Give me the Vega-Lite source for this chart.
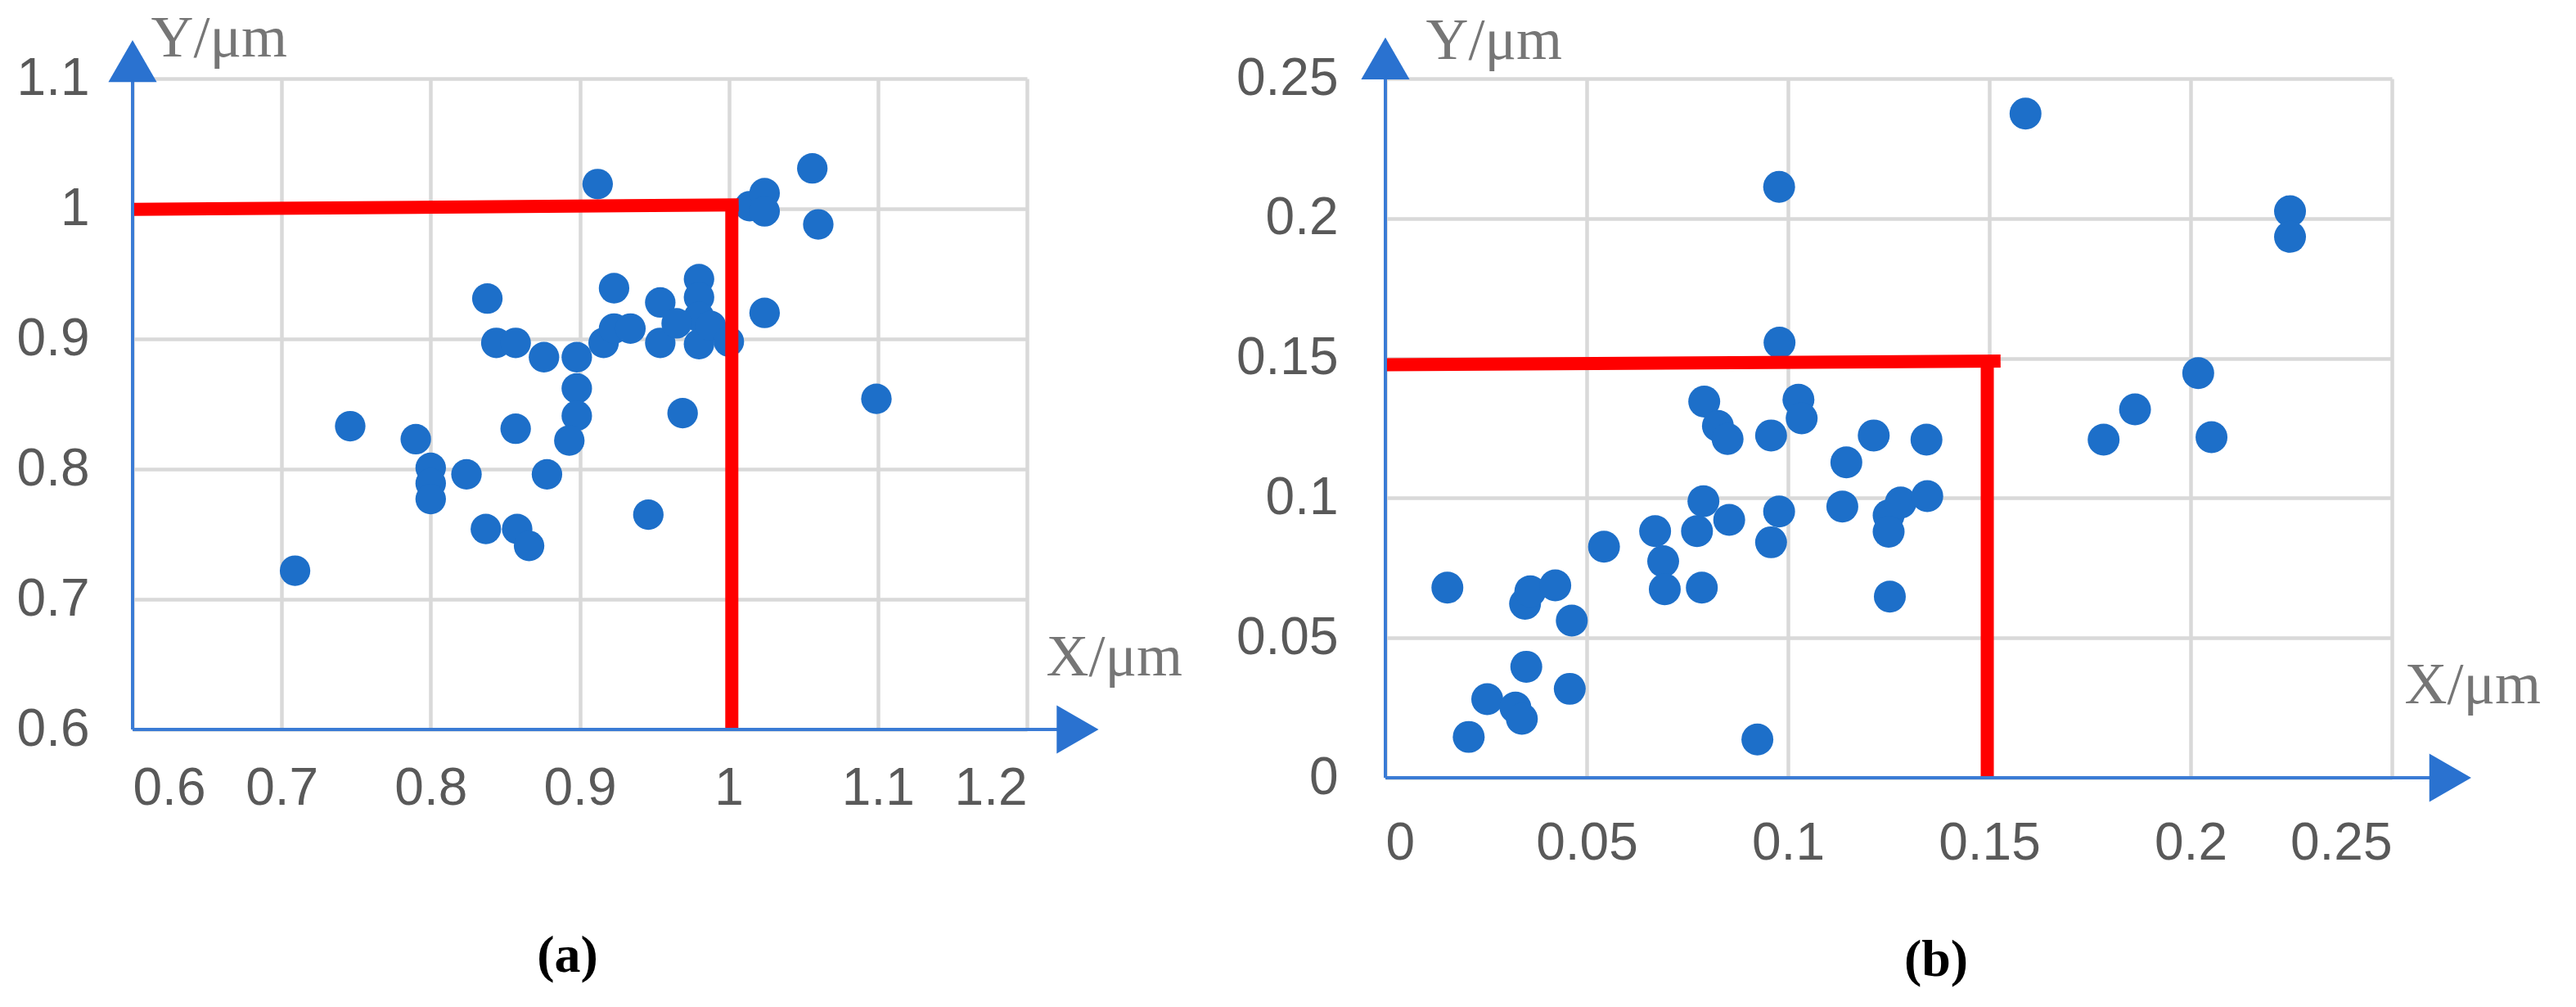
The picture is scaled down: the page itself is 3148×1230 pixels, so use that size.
{
  "$schema": "https://vega.github.io/schema/vega-lite/v6.json",
  "background": "white",
  "padding": {"left": 20, "top": 10, "right": 52, "bottom": 10},
  "bounds": "flush",
  "spacing": 438,
  "config": {
    "view": {"stroke": null},
    "axis": {
      "domain": false,
      "ticks": false,
      "grid": true,
      "gridColor": "#d9d9d9",
      "gridWidth": 4.5,
      "labelFont": "Liberation Sans",
      "labelFontSize": 64,
      "labelColor": "#595959",
      "titleFont": "Liberation Serif",
      "titleFontSize": 72,
      "titleFontWeight": "normal",
      "titleColor": "#767676",
      "titleAngle": 0,
      "titleAlign": "left",
      "titleBaseline": "alphabetic",
      "format": "~g"
    }
  },
  "datasets": {
    "a": [
      {"x": 0.709, "y": 0.722}, {"x": 0.746, "y": 0.833}, {"x": 0.790, "y": 0.823},
      {"x": 0.800, "y": 0.801}, {"x": 0.800, "y": 0.789}, {"x": 0.800, "y": 0.777},
      {"x": 0.824, "y": 0.796}, {"x": 0.838, "y": 0.931}, {"x": 0.844, "y": 0.897},
      {"x": 0.857, "y": 0.897}, {"x": 0.837, "y": 0.754}, {"x": 0.858, "y": 0.754},
      {"x": 0.866, "y": 0.741}, {"x": 0.857, "y": 0.831}, {"x": 0.876, "y": 0.886},
      {"x": 0.878, "y": 0.796}, {"x": 0.898, "y": 0.886}, {"x": 0.898, "y": 0.862},
      {"x": 0.898, "y": 0.841}, {"x": 0.893, "y": 0.822}, {"x": 0.912, "y": 1.019},
      {"x": 0.923, "y": 0.939}, {"x": 0.916, "y": 0.897}, {"x": 0.923, "y": 0.908},
      {"x": 0.934, "y": 0.908}, {"x": 0.946, "y": 0.765}, {"x": 0.954, "y": 0.928},
      {"x": 0.954, "y": 0.897}, {"x": 0.969, "y": 0.843}, {"x": 0.980, "y": 0.946},
      {"x": 0.980, "y": 0.932}, {"x": 0.980, "y": 0.917}, {"x": 0.980, "y": 0.896},
      {"x": 0.988, "y": 0.910}, {"x": 1.000, "y": 0.898}, {"x": 0.965, "y": 0.912},
      {"x": 1.014, "y": 1.002}, {"x": 1.024, "y": 1.012}, {"x": 1.024, "y": 0.998},
      {"x": 1.024, "y": 0.920}, {"x": 1.056, "y": 1.031}, {"x": 1.060, "y": 0.988},
      {"x": 1.099, "y": 0.854}
    ],
    "b": [
      {"x": 0.0154, "y": 0.068}, {"x": 0.0207, "y": 0.0146}, {"x": 0.0253, "y": 0.0281},
      {"x": 0.0323, "y": 0.0251}, {"x": 0.0339, "y": 0.0211}, {"x": 0.0350, "y": 0.0397},
      {"x": 0.0347, "y": 0.0622}, {"x": 0.0360, "y": 0.0667}, {"x": 0.0422, "y": 0.0688},
      {"x": 0.0458, "y": 0.0318}, {"x": 0.0463, "y": 0.0562}, {"x": 0.0543, "y": 0.0826},
      {"x": 0.0670, "y": 0.0882}, {"x": 0.0690, "y": 0.0774}, {"x": 0.0694, "y": 0.0674},
      {"x": 0.0774, "y": 0.0882}, {"x": 0.0790, "y": 0.0989}, {"x": 0.0786, "y": 0.0680},
      {"x": 0.0854, "y": 0.0922}, {"x": 0.0792, "y": 0.1345}, {"x": 0.0826, "y": 0.1258},
      {"x": 0.0850, "y": 0.1211}, {"x": 0.0924, "y": 0.0137}, {"x": 0.0958, "y": 0.1224},
      {"x": 0.0958, "y": 0.0842}, {"x": 0.0978, "y": 0.0952}, {"x": 0.0979, "y": 0.1556},
      {"x": 0.0978, "y": 0.2113}, {"x": 0.1026, "y": 0.1352}, {"x": 0.1034, "y": 0.1285},
      {"x": 0.1135, "y": 0.0970}, {"x": 0.1145, "y": 0.1128}, {"x": 0.1213, "y": 0.1224},
      {"x": 0.1250, "y": 0.0938}, {"x": 0.1250, "y": 0.0880}, {"x": 0.1280, "y": 0.0984},
      {"x": 0.1253, "y": 0.0648}, {"x": 0.1344, "y": 0.1209}, {"x": 0.1346, "y": 0.1007},
      {"x": 0.1590, "y": 0.2375}, {"x": 0.1784, "y": 0.1209}, {"x": 0.1862, "y": 0.1317},
      {"x": 0.2019, "y": 0.1447}, {"x": 0.2052, "y": 0.1218}, {"x": 0.2247, "y": 0.2026},
      {"x": 0.2247, "y": 0.1934}
    ]
  },
  "hconcat": [
    {
      "width": 1093,
      "height": 795,
      "title": {"text": "(a)", "orient": "bottom", "anchor": "middle", "font": "Liberation Serif", "fontSize": 64, "fontWeight": "bold", "color": "#000000", "offset": 141, "dx": -15},
      "layer": [
        {
          "data": {"name": "a"},
          "mark": {"type": "point", "filled": true, "shape": "circle", "size": 1390, "color": "#1d6fc9", "opacity": 1},
          "encoding": {
            "x": {"field": "x", "type": "quantitative",
                  "scale": {"domain": [0.6, 1.2], "nice": false, "zero": false},
                  "axis": {"values": [0.6, 0.7, 0.8, 0.9, 1, 1.1, 1.2], "labelPadding": 40,
                           "title": "X/μm", "titleX": 1116, "titleY": -67}},
            "y": {"field": "y", "type": "quantitative",
                  "scale": {"domain": [0.6, 1.1], "nice": false, "zero": false},
                  "axis": {"values": [0.6, 0.7, 0.8, 0.9, 1, 1.1], "labelPadding": 53,
                           "title": "Y/μm", "titleX": 22, "titleY": -28}}
          }
        },
        {
          "data": {"values": [{}]},
          "mark": {"type": "rule", "color": "#ff0000", "strokeWidth": 16},
          "encoding": {"x": {"datum": 0.6}, "y": {"datum": 0.9995}, "x2": {"datum": 1.0066}, "y2": {"datum": 1.003}}
        },
        {
          "data": {"values": [{}]},
          "mark": {"type": "rule", "color": "#ff0000", "strokeWidth": 16},
          "encoding": {"x": {"datum": 1.002}, "y": {"datum": 0.6}, "y2": {"datum": 1.003}}
        },
        {
          "data": {"values": [{}]},
          "mark": {"type": "rule", "color": "#3a7bd5", "strokeWidth": 4},
          "encoding": {"x": {"datum": 0.6}, "x2": {"datum": 1.224}, "y": {"datum": 0.6}}
        },
        {
          "data": {"values": [{}]},
          "mark": {"type": "rule", "color": "#3a7bd5", "strokeWidth": 4},
          "encoding": {"x": {"datum": 0.6}, "y": {"datum": 0.6}, "y2": {"datum": 1.1}}
        },
        {
          "data": {"values": [{}]},
          "mark": {"type": "point", "filled": true, "shape": "triangle-right", "size": 3500, "color": "#2a72d0", "opacity": 1},
          "encoding": {"x": {"datum": 1.234}, "y": {"datum": 0.6}}
        },
        {
          "data": {"values": [{}]},
          "mark": {"type": "point", "filled": true, "shape": "triangle-up", "size": 3500, "color": "#2a72d0", "opacity": 1},
          "encoding": {"x": {"datum": 0.6}, "y": {"datum": 1.1135}}
        }
      ]
    },
    {
      "width": 1230,
      "height": 854,
      "title": {"text": "(b)", "orient": "bottom", "anchor": "middle", "font": "Liberation Serif", "fontSize": 64, "fontWeight": "bold", "color": "#000000", "offset": 79, "dx": 58},
      "layer": [
        {
          "data": {"name": "b"},
          "mark": {"type": "point", "filled": true, "shape": "circle", "size": 1520, "color": "#1d6fc9", "opacity": 1},
          "encoding": {
            "x": {"field": "x", "type": "quantitative",
                  "scale": {"domain": [0, 0.25], "nice": false, "zero": false},
                  "axis": {"values": [0, 0.05, 0.1, 0.15, 0.2, 0.25], "labelPadding": 48,
                           "title": "X/μm", "titleX": 1245, "titleY": -92}},
            "y": {"field": "y", "type": "quantitative",
                  "scale": {"domain": [0, 0.25], "nice": false, "zero": false},
                  "axis": {"values": [0, 0.05, 0.1, 0.15, 0.2, 0.25], "labelPadding": 58,
                           "title": "Y/μm", "titleX": 49, "titleY": -25}}
          }
        },
        {
          "data": {"values": [{}]},
          "mark": {"type": "rule", "color": "#ff0000", "strokeWidth": 16},
          "encoding": {"x": {"datum": 0}, "y": {"datum": 0.1477}, "x2": {"datum": 0.1528}, "y2": {"datum": 0.149}}
        },
        {
          "data": {"values": [{}]},
          "mark": {"type": "rule", "color": "#ff0000", "strokeWidth": 16},
          "encoding": {"x": {"datum": 0.1495}, "y": {"datum": 0}, "y2": {"datum": 0.149}}
        },
        {
          "data": {"values": [{}]},
          "mark": {"type": "rule", "color": "#3a7bd5", "strokeWidth": 4},
          "encoding": {"x": {"datum": 0}, "x2": {"datum": 0.2598}, "y": {"datum": 0}}
        },
        {
          "data": {"values": [{}]},
          "mark": {"type": "rule", "color": "#3a7bd5", "strokeWidth": 4},
          "encoding": {"x": {"datum": 0}, "y": {"datum": 0}, "y2": {"datum": 0.25}}
        },
        {
          "data": {"values": [{}]},
          "mark": {"type": "point", "filled": true, "shape": "triangle-right", "size": 3500, "color": "#2a72d0", "opacity": 1},
          "encoding": {"x": {"datum": 0.2645}, "y": {"datum": 0}}
        },
        {
          "data": {"values": [{}]},
          "mark": {"type": "point", "filled": true, "shape": "triangle-up", "size": 3500, "color": "#2a72d0", "opacity": 1},
          "encoding": {"x": {"datum": 0}, "y": {"datum": 0.2572}}
        }
      ]
    }
  ]
}
